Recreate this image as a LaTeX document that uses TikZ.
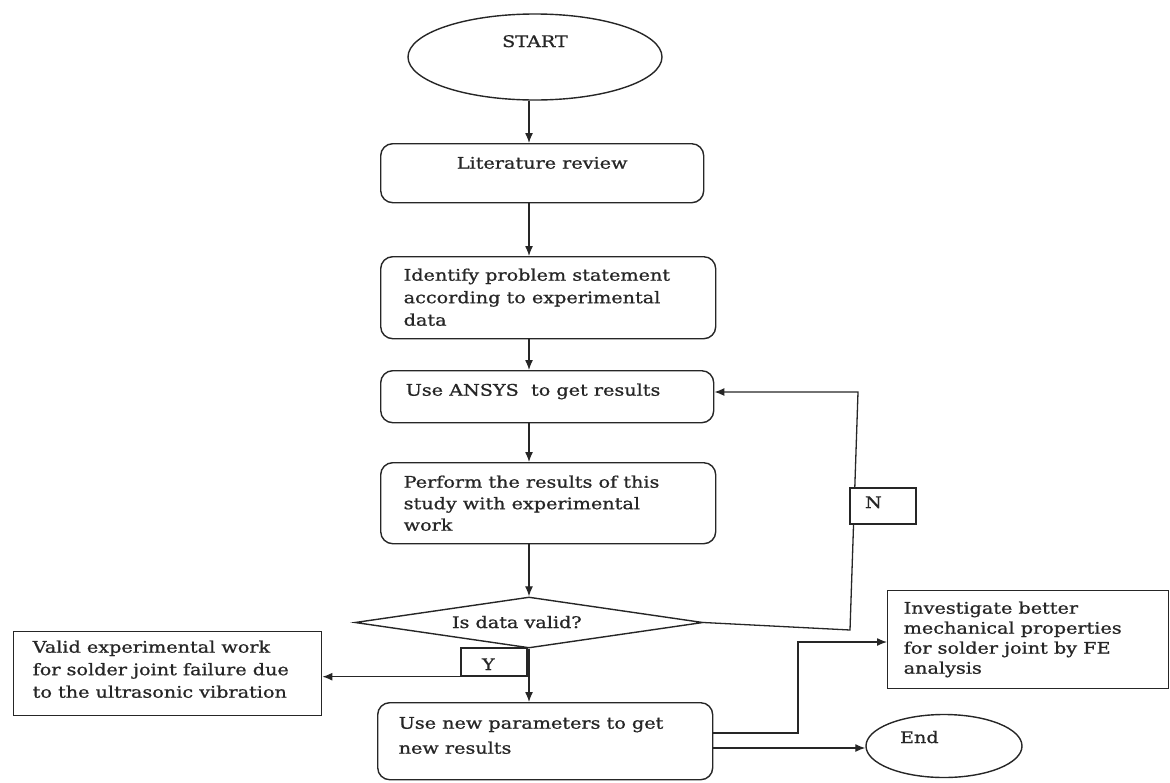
\documentclass[tikz,border=0pt]{standalone}
\usepackage{fontspec}
\setmainfont{DejaVu Serif}[FakeStretch=1.2,FakeBold=0.9]
\usetikzlibrary{shapes.geometric,arrows.meta}
\newcommand{\mlines}[2]{\makebox[#1][l]{\begin{tabular}[t]{@{}l@{}}#2\end{tabular}}}
\definecolor{ink}{HTML}{262626}
\begin{document}
\begin{tikzpicture}[x=1pt,y=-1pt,
  every node/.style={text=ink},
  base/.style={draw=ink, line width=1.4pt, inner ysep=0pt, font=\fontsize{16}{22.5}\selectfont},
  procbox/.style={base, rounded corners=12pt, anchor=north west},
  plainbox/.style={base, anchor=north west},
  arr/.style={draw=ink, line width=1.3pt, -{Latex[length=10pt,width=8pt]}},
  conn/.style={draw=ink, line width=1.3pt}]
\useasboundingbox (0,0) rectangle (1170,782);

% start
\node[base, ellipse, inner sep=0pt, minimum width=254pt, minimum height=86pt,
      text height=11pt, text depth=31pt] (start) at (535,57) {START};

% process boxes
\node[procbox, minimum width=323pt, minimum height=59pt, inner xsep=0pt,
      text height=25pt, text depth=34pt] (lit) at (380,143)
      {\makebox[323pt]{Literature review}};
\node[procbox, minimum width=335pt, minimum height=82pt, inner xsep=23pt,
      text height=24pt, text depth=58pt] (ident) at (380,256)
      {\mlines{289pt}{Identify problem statement\\according to experimental\\data}};
\node[procbox, minimum width=333pt, minimum height=52pt, inner xsep=25pt,
      text height=25pt, text depth=27pt] (ansys) at (380,370)
      {\mlines{283pt}{Use ANSYS\ \ to get results}};
\node[procbox, minimum width=335pt, minimum height=81pt, inner xsep=23pt,
      text height=25pt, text depth=56pt, font=\fontsize{16}{21.5}\selectfont] (perform) at (380,462)
      {\mlines{289pt}{Perform the results of this\\study with experimental\\work}};

% decision
\node[base, diamond, aspect=6.8, inner sep=0pt, minimum width=348pt, minimum height=51pt,
      text height=11pt, text depth=0pt] (dec) at (529,622.5)
      {\makebox[154pt][l]{Is data valid?}};

\node[procbox, minimum width=335pt, minimum height=77pt, inner xsep=21pt,
      text height=26pt, text depth=51pt, font=\fontsize{16}{25}\selectfont] (newp) at (377,702)
      {\mlines{293pt}{Use new parameters to get\\new results}};

\node[plainbox, minimum width=308pt, minimum height=84pt, inner xsep=19pt,
      text height=21pt, text depth=63pt] (valid) at (13,631)
      {\mlines{270pt}{Valid experimental work\\for solder joint failure due\\to the ultrasonic vibration}};

\node[plainbox, minimum width=281pt, minimum height=98pt, inner xsep=16pt,
      text height=23pt, text depth=75pt, font=\fontsize{16}{20}\selectfont] (inv) at (887,590)
      {\mlines{249pt}{Investigate better\\mechanical properties\\for solder joint by FE\\analysis}};

\node[base, ellipse, inner sep=0pt, minimum width=156pt, minimum height=63pt,
      text height=11pt, text depth=17pt] (end) at (944,746)
      {\makebox[88pt][l]{End}};

% main flow
\draw[arr] (start.south -| dec.north) -- (lit.north -| dec.north);
\draw[arr] (lit.south -| dec.north) -- (ident.north -| dec.north);
\draw[arr] (ident.south -| dec.north) -- (ansys.north -| dec.north);
\draw[arr] (ansys.south -| dec.north) -- (perform.north -| dec.north);
\draw[arr] (perform.south -| dec.north) -- (dec.north);
\draw[arr] (dec.south) -- (newp.north -| dec.south);

% Y branch
\node[base, minimum width=66pt, minimum height=28pt, inner sep=0pt,
      text height=16pt, text depth=0pt] (ylab) at (494,662) {\makebox[24pt][l]{Y}};
\draw[arr] (ylab.south east) -- (ylab.south east -| valid.east);

% N branch
\coordinate (n1) at (850,630);
\coordinate (n2) at (858,392);
\draw[arr] (dec.east) -- (n1) -- (n2) -- (n2 -| ansys.east);
\node[base, fill=white, minimum width=66pt, minimum height=36pt, inner sep=0pt,
      text height=11pt, text depth=7pt] (nlab) at (883,506) {\makebox[36pt][l]{N}};

% outputs of new parameters
\coordinate (a1) at (798,733);
\coordinate (a2) at (798,642);
\draw[arr] (a1 -| newp.east) -- (a1) -- (a2) -- (a2 -| inv.west);
\coordinate (b1) at (0,748);
\draw[arr] (b1 -| newp.east) -- (b1 -| end.west);
\end{tikzpicture}
\end{document}
